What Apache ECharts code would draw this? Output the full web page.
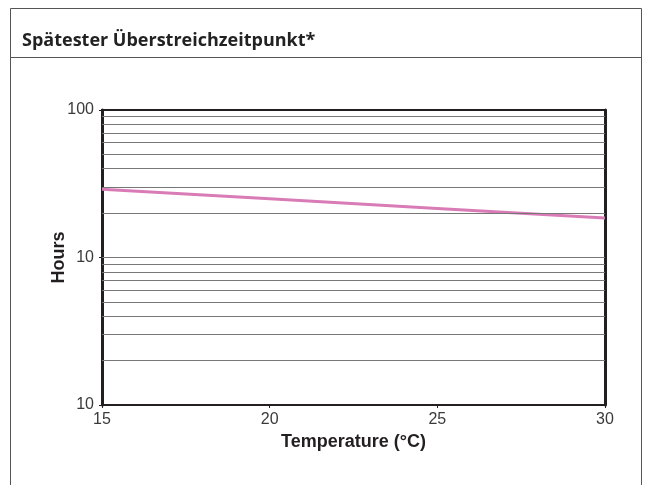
<!DOCTYPE html>
<html>
<head>
<meta charset="utf-8">
<script src="https://cdn.jsdelivr.net/npm/echarts@6/dist/echarts.min.js"></script>
<style>
  html, body { margin: 0; padding: 0; background: #fff; }
  #chart { width: 652px; height: 485px; }
</style>
</head>
<body>
<div id="chart"></div>
<script>
// Werte (log. Skala)
const temperatures = [15, 20, 25, 30]
const hours = [29, 25, 21.5, 18.5]
const gridValues = [2, 3, 4, 5, 6, 7, 8, 9, 10, 20, 30, 40, 50, 60, 70, 80, 90]
// Original beschriftet die untere Achse mit "10"
const yTickLabels = { 1: '10', 10: '10', 100: '100' }

const chart = echarts.init(document.getElementById('chart'))

const labelFont = { fontFamily: 'Liberation Sans, Arial, sans-serif', fontSize: 16, color: '#3a3a3a' }
const nameFont = { fontFamily: 'Liberation Sans, Arial, sans-serif', fontWeight: 'bold', fontSize: 18, color: '#231f20' }

chart.setOption({
  animation: false,
  graphic: [
    { type: 'rect', shape: { x: 10.5, y: 8.5, width: 631, height: 490 }, style: { fill: 'none', stroke: '#555', lineWidth: 1 } },
    { type: 'line', shape: { x1: 10, y1: 57.5, x2: 642, y2: 57.5 }, style: { stroke: '#555', lineWidth: 1 } },
    { type: 'text', left: 22, top: 32, style: { text: 'Spätester Überstreichzeitpunkt*', font: 'bold 18px "Open Sans", sans-serif', fill: '#222' } }
  ],
  grid: { left: 102, right: 47, top: 110, bottom: 80, show: true, borderColor: '#231f20', borderWidth: 2 },
  xAxis: {
    type: 'value', min: 15, max: 30, interval: 5,
    name: 'Temperature (°C)', nameLocation: 'middle', nameGap: 28,
    nameTextStyle: nameFont,
    axisLine: { show: true, lineStyle: { color: '#231f20', width: 2 } },
    axisTick: { show: true, length: 3, lineStyle: { color: '#231f20' } },
    axisLabel: Object.assign({ margin: 7 }, labelFont),
    splitLine: { show: false }
  },
  yAxis: [{
    type: 'log', logBase: 10, min: 1, max: 100,
    name: 'Hours', nameLocation: 'middle', nameGap: 34, nameRotate: 90, nameMoveOverlap: false,
    nameTextStyle: nameFont,
    axisLine: { show: true, lineStyle: { color: '#231f20', width: 3 } },
    axisTick: { show: true, length: 3, lineStyle: { color: '#231f20' } },
    axisLabel: Object.assign({ margin: 8, formatter: v => yTickLabels[Math.round(v)] ?? '' }, labelFont),
    splitLine: { show: false }
  }, {
    type: 'log', logBase: 10, min: 1, max: 100, position: 'right',
    axisLine: { show: true, lineStyle: { color: '#231f20', width: 3 } },
    axisTick: { show: false }, axisLabel: { show: false }, splitLine: { show: false }
  }],
  series: [{
    type: 'line',
    data: temperatures.map((t, i) => [t, hours[i]]),
    symbol: 'none',
    lineStyle: { color: '#d97bb6', width: 3 },
    z: 3,
    markLine: {
      silent: true, symbol: 'none', label: { show: false },
      lineStyle: { color: '#777', width: 1, type: 'solid' },
      data: gridValues.map(v => ({ yAxis: v }))
    }
  }]
})
</script>
</body>
</html>
